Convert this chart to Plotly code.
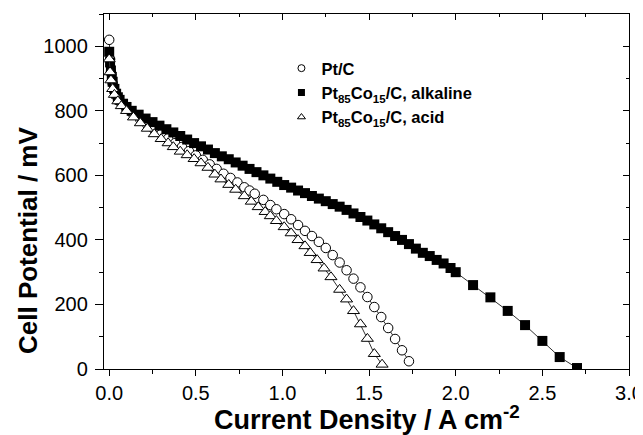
import plotly.graph_objects as go

# Pt/C (open circles)
ptc_x = [0.0, 0.005, 0.01, 0.02, 0.03, 0.05, 0.07, 0.10, 0.14, 0.18, 0.22, 0.26, 0.30, 0.34, 0.38,
         0.42, 0.46, 0.50, 0.54, 0.58, 0.62, 0.66, 0.70, 0.74, 0.78, 0.81, 0.84, 0.89, 0.93, 0.965,
         1.01, 1.05, 1.09, 1.13, 1.17, 1.21, 1.25, 1.29, 1.33, 1.37, 1.41, 1.45, 1.49, 1.53, 1.57,
         1.61, 1.65, 1.69, 1.73]
ptc_y = [1020, 960, 920, 885, 862, 838, 822, 806, 788, 772, 757, 742, 728, 714, 700,
         688, 675, 662, 648, 634, 620, 605, 592, 578, 563, 553, 543, 524, 508, 495,
         480, 464, 446, 428, 412, 394, 375, 353, 330, 306, 280, 253, 223, 192, 161,
         127, 93, 58, 24]

# Pt85Co15/C, alkaline (filled squares)
alk_x = [0.0, 0.005, 0.01, 0.015, 0.02, 0.03, 0.04, 0.05, 0.06, 0.08, 0.10, 0.13, 0.17, 0.21, 0.25,
         0.29, 0.33, 0.37, 0.41, 0.45, 0.49, 0.53, 0.57, 0.61, 0.65, 0.69, 0.73, 0.77, 0.81, 0.85,
         0.89, 0.93, 0.97, 1.01, 1.05, 1.09, 1.13, 1.17, 1.21, 1.25, 1.29, 1.33, 1.37, 1.41, 1.45,
         1.49, 1.53, 1.57, 1.61, 1.65, 1.69, 1.73, 1.77, 1.81, 1.85, 1.89, 1.93, 1.97, 2.0,
         2.1, 2.2, 2.3, 2.4, 2.5, 2.6, 2.7]
alk_y = [983, 950, 925, 905, 890, 868, 853, 842, 834, 822, 812, 800, 788, 776, 765,
         754, 743, 733, 722, 711, 700, 690, 680, 669, 659, 650, 640, 630, 620, 610,
         600, 590, 580, 570, 562, 553, 545, 536, 528, 520, 511, 503, 493, 482, 471,
         460, 448, 436, 424, 412, 400, 387, 373, 360, 350, 338, 327, 313, 300,
         260, 222, 180, 136, 87, 37, 3]

# Pt85Co15/C, acid (open triangles)
acid_x = [0.0, 0.005, 0.01, 0.02, 0.03, 0.05, 0.07, 0.10, 0.14, 0.18, 0.22, 0.26, 0.30, 0.34, 0.37,
          0.41, 0.45, 0.49, 0.53, 0.57, 0.61, 0.645, 0.69, 0.73, 0.78, 0.82, 0.86, 0.90, 0.93, 0.965,
          1.01, 1.05, 1.09, 1.13, 1.16, 1.20, 1.24, 1.28, 1.33, 1.37, 1.41, 1.45, 1.49, 1.53, 1.575]
acid_y = [960, 920, 895, 868, 850, 830, 815, 800, 780, 762, 745, 728, 713, 700, 688,
          674, 663, 651, 638, 624, 603, 588, 571, 556, 536, 519, 502, 487, 474, 459,
          440, 421, 400, 381, 360, 338, 312, 285, 246, 216, 180, 139, 94, 47, 14]

series_names = ["<b>Pt/C</b>",
                "<b>Pt<sub>85</sub>Co<sub>15</sub>/C, alkaline</b>",
                "<b>Pt<sub>85</sub>Co<sub>15</sub>/C, acid</b>"]

x_ticks = [0.0, 0.5, 1.0, 1.5, 2.0, 2.5, 3.0]
x_tick_labels = ["0.0", "0.5", "1.0", "1.5", "2.0", "2.5", "3.0"]
y_ticks = [0, 200, 400, 600, 800, 1000]
y_tick_labels = ["0", "200", "400", "600", "800", "1000"]

FONT = "Liberation Sans, Arial, sans-serif"
X_RANGE = [-0.03, 3.0]
Y_RANGE = [0, 1100]

markers = [
    dict(symbol="circle", size=9.5, color="white", line=dict(color="black", width=1)),
    dict(symbol="square", size=10, color="black", line=dict(color="black", width=0)),
    dict(symbol="triangle-up", size=10.5, color="white", line=dict(color="black", width=1)),
]
legend_markers = [
    dict(symbol="circle", size=7, color="white", line=dict(color="black", width=1)),
    dict(symbol="square", size=7, color="black", line=dict(color="black", width=0)),
    dict(symbol="triangle-up", size=7, color="white", line=dict(color="black", width=1)),
]

fig = go.Figure()
for xs, ys, nm, mk in zip([ptc_x, alk_x, acid_x], [ptc_y, alk_y, acid_y], series_names, markers):
    fig.add_trace(go.Scatter(
        x=xs, y=ys, mode="lines+markers", name=nm, showlegend=False,
        line=dict(color="#333333", width=1), marker=mk,
    ))
# legend entries (markers only, as in the reference)
for nm, mk in zip(series_names, legend_markers):
    fig.add_trace(go.Scatter(x=[None], y=[None], mode="markers", name=nm, marker=mk,
                             hoverinfo="skip"))
# empty trace to create mirrored axes (top/right) with inward ticks
fig.add_trace(go.Scatter(x=[], y=[], xaxis="x2", yaxis="y2", showlegend=False, hoverinfo="skip"))

common = dict(showgrid=False, zeroline=False, showline=True, linecolor="black", linewidth=1.3,
              tickcolor="black", tickwidth=1.3, automargin=False)

# the page body has an 8px default margin, so the figure is sized/offset to compensate
fig.update_layout(
    width=635, height=427,
    margin=dict(l=96, r=14, t=6, b=66),
    paper_bgcolor="white", plot_bgcolor="white",
    font=dict(family=FONT, color="black"),
    showlegend=True,
    legend=dict(x=0.338, y=0.896, xanchor="left", yanchor="top",
                bgcolor="rgba(0,0,0,0)", font=dict(family=FONT, size=16.5, color="black"),
                itemwidth=30, tracegroupgap=0),
    xaxis=dict(range=X_RANGE, tickmode="array", tickvals=x_ticks, ticktext=x_tick_labels,
               ticks="outside", ticklen=6, tickfont=dict(family=FONT, size=20),
               minor=dict(tickmode="linear", tick0=0, dtick=0.25, ticks="outside", ticklen=4,
                          tickcolor="black", tickwidth=1.3),
               **common),
    yaxis=dict(range=Y_RANGE, tickmode="array", tickvals=y_ticks, ticktext=y_tick_labels,
               ticks="outside", ticklen=8, tickfont=dict(family=FONT, size=20),
               ticklabelstandoff=3,
               minor=dict(tickmode="linear", tick0=0, dtick=100, ticks="outside", ticklen=4,
                          tickcolor="black", tickwidth=1.3),
               **common),
    xaxis2=dict(range=X_RANGE, overlaying="x", side="top", anchor="y2",
                tickmode="array", tickvals=x_ticks, showticklabels=False,
                ticks="inside", ticklen=6,
                minor=dict(tickmode="linear", tick0=0, dtick=0.25, ticks="inside", ticklen=3,
                           tickcolor="black", tickwidth=1.3),
                **common),
    yaxis2=dict(range=Y_RANGE, overlaying="y", side="right", anchor="x2",
                tickmode="array", tickvals=y_ticks, showticklabels=False,
                ticks="inside", ticklen=6,
                minor=dict(tickmode="linear", tick0=0, dtick=100, ticks="inside", ticklen=3,
                           tickcolor="black", tickwidth=1.3),
                **common),
    annotations=[
        dict(text="<b>Cell Potential / mV</b>", textangle=-90,
             xref="paper", yref="paper", x=-0.145, y=0.363,
             xanchor="center", yanchor="middle", showarrow=False,
             font=dict(family=FONT, size=26, color="black")),
        dict(text="<b>Current Density / A cm<sup>-2</sup></b>",
             xref="paper", yref="paper", x=0.50, y=-0.138,
             xanchor="center", yanchor="middle", showarrow=False,
             font=dict(family=FONT, size=27, color="black")),
    ],
)

fig.write_html("out.html")
